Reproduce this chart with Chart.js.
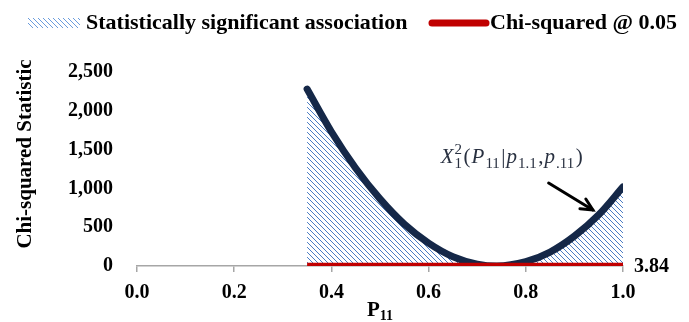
<!DOCTYPE html>
<html>
<head>
<meta charset="utf-8">
<script src="https://cdn.jsdelivr.net/npm/chart.js@4.4.1/dist/chart.umd.min.js"></script>
<style>
  html, body { margin: 0; padding: 0; background: #fff; }
  #c { display: block; }
</style>
</head>
<body>
<canvas id="c" width="689" height="322"></canvas>
<script>
// values
const p11 = [0.35, 0.40, 0.45, 0.50, 0.55, 0.60, 0.65, 0.70, 0.74, 0.80, 0.85, 0.90, 0.95, 1.00]
const chiSq = [2280, 1730, 1260, 865, 540, 295, 120, 25, 0, 55, 180, 385, 660, 1020]
const critX = [0.35, 1.00]
const critVal = 3.84
const xTicks = [0, 0.2, 0.4, 0.6, 0.8, 1.0]
const yTicks = [0, 500, 1000, 1500, 2000, 2500]
const legendLabels = ['Statistically significant association', 'Chi-squared @ 0.05']
const yTitle = 'Chi-squared Statistic'

// where the annotation sits, in data units
const noteAt = { x: 0.625, y: 1325 }
const arrowFrom = { x: 0.847, y: 1070 }
const arrowTo = { x: 0.938, y: 722 }

const serif = "'Liberation Serif', 'Times New Roman', serif"
const navy = '#152848'
const red = '#C00000'

const ctx = document.getElementById('c').getContext('2d')

// hatch for the shaded area
function makeHatch(color) {
    const t = document.createElement('canvas')
    t.width = 5; t.height = 5
    const g = t.getContext('2d')
    g.strokeStyle = color
    g.lineWidth = 1
    g.beginPath()
    g.moveTo(-1, -1); g.lineTo(6, 6)
    g.moveTo(-1, 4); g.lineTo(1, 6)
    g.moveTo(4, -1); g.lineTo(6, 1)
    g.stroke()
    return ctx.createPattern(t, 'repeat')
}
const hatch = makeHatch('#4A7CC4')

const curve = p11.map((x, i) => ({ x: x, y: chiSq[i] }))
const crit = critX.map(x => ({ x: x, y: critVal }))

function drawMath(c, x, y) {
    // X_1^2 (P_11 | p_1.1 , p_.11)
    const parts = [
        { t: 'X', it: true },
        { t: '2', sup: true, keep: true },
        { t: '1', sub: true },
        { t: '(', it: false },
        { t: 'P', it: true },
        { t: '11', sub: true },
        { t: '|', it: false },
        { t: 'p', it: true },
        { t: '1.1', sub: true },
        { t: ',', it: false },
        { t: 'p', it: true },
        { t: '.11', sub: true },
        { t: ')', it: false }
    ]
    c.save()
    c.fillStyle = '#283040'
    c.textBaseline = 'alphabetic'
    c.textAlign = 'left'
    let cx = x
    parts.forEach(p => {
        let dy = 0
        if (p.sub || p.sup) {
            c.font = '15px ' + serif
            dy = p.sub ? 5 : -9
        } else {
            c.font = (p.it ? 'italic ' : '') + '21px ' + serif
        }
        c.fillText(p.t, cx, y + dy)
        if (!p.keep) cx += c.measureText(p.t).width + (p.sub ? 1.5 : 1)
    })
    c.restore()
}

const extras = {
    id: 'extras',
    afterDraw(chart) {
        const c = chart.ctx
        const xs = chart.scales.x, ys = chart.scales.y

        // legend
        c.save()
        c.fillStyle = makeHatch('#6A9BDC')
        c.fillRect(28, 18, 52, 10)
        c.font = 'bold 22px ' + serif
        c.fillStyle = '#000'
        c.textBaseline = 'alphabetic'
        c.fillText(legendLabels[0], 86, 29)
        c.strokeStyle = red
        c.lineWidth = 7
        c.lineCap = 'round'
        c.beginPath(); c.moveTo(432, 23); c.lineTo(486, 23); c.stroke()
        c.fillText(legendLabels[1], 490, 29)

        // y title
        c.save()
        c.translate(26, 154)
        c.rotate(-Math.PI / 2)
        c.textAlign = 'center'
        c.textBaseline = 'middle'
        c.font = 'bold 21px ' + serif
        c.fillText(yTitle, 0, 0)
        c.restore()

        // critical value label
        c.font = 'bold 20px ' + serif
        c.textBaseline = 'middle'
        c.fillText(String(critVal), xs.getPixelForValue(critX[1]) + 11, ys.getPixelForValue(critVal) + 1)

        // x title with subscript
        const tx = xs.getPixelForValue(0.5)
        c.textBaseline = 'alphabetic'
        c.font = 'bold 21px ' + serif
        const wP = c.measureText('P').width
        c.font = 'bold 14px ' + serif
        const w11 = c.measureText('11').width
        const left = tx - (wP + w11) / 2
        c.font = 'bold 21px ' + serif
        c.fillText('P', left, 316)
        c.font = 'bold 14px ' + serif
        c.fillText('11', left + wP, 320)

        // annotation
        drawMath(c, xs.getPixelForValue(noteAt.x), ys.getPixelForValue(noteAt.y))
        const ax = xs.getPixelForValue(arrowFrom.x), ay = ys.getPixelForValue(arrowFrom.y)
        const bx = xs.getPixelForValue(arrowTo.x), by = ys.getPixelForValue(arrowTo.y)
        const ang = Math.atan2(by - ay, bx - ax)
        c.strokeStyle = '#000'
        c.lineWidth = 3
        c.lineCap = 'round'
        c.beginPath(); c.moveTo(ax, ay); c.lineTo(bx, by); c.stroke()
        c.beginPath()
        c.moveTo(bx - 13 * Math.cos(ang - 0.45), by - 13 * Math.sin(ang - 0.45))
        c.lineTo(bx, by)
        c.lineTo(bx - 13 * Math.cos(ang + 0.45), by - 13 * Math.sin(ang + 0.45))
        c.stroke()
        c.restore()
    }
}

new Chart(ctx, {
    type: 'line',
    data: {
        datasets: [
            {
                label: legendLabels[1],
                data: crit,
                borderColor: red,
                borderWidth: 6,
                pointRadius: 0,
                fill: false,
                order: 0
            },
            {
                label: legendLabels[0],
                data: curve,
                borderColor: navy,
                borderWidth: 7,
                borderCapStyle: 'round',
                backgroundColor: hatch,
                cubicInterpolationMode: 'monotone',
                pointRadius: 0,
                fill: 'origin',
                order: 1
            }
        ]
    },
    options: {
        responsive: false,
        animation: false,
        layout: { padding: { top: 72, right: 66, bottom: 0, left: 0 } },
        scales: {
            x: {
                type: 'linear',
                min: 0,
                max: 1,
                afterFit: s => { s.height = 56 },
                afterBuildTicks: s => { s.ticks = xTicks.map(v => ({ value: v })) },
                ticks: {
                    callback: v => v.toFixed(1),
                    color: '#000',
                    padding: 9,
                    font: { family: serif, size: 20, weight: 'bold' }
                },
                grid: { display: true, drawOnChartArea: false, drawTicks: true, tickLength: 6, color: '#A6A6A6', lineWidth: 1.5 },
                border: { display: true, color: '#A6A6A6', width: 1.5 }
            },
            y: {
                min: 0,
                max: 2500,
                afterFit: s => { s.width = 137 },
                afterBuildTicks: s => { s.ticks = yTicks.map(v => ({ value: v })) },
                ticks: {
                    callback: v => v.toLocaleString('en-US'),
                    color: '#000',
                    padding: 24,
                    font: { family: serif, size: 20, weight: 'bold' }
                },
                grid: { display: false, drawTicks: false },
                border: { display: false }
            }
        },
        plugins: {
            legend: { display: false },
            tooltip: { enabled: false }
        }
    },
    plugins: [extras]
});
</script>
</body>
</html>
